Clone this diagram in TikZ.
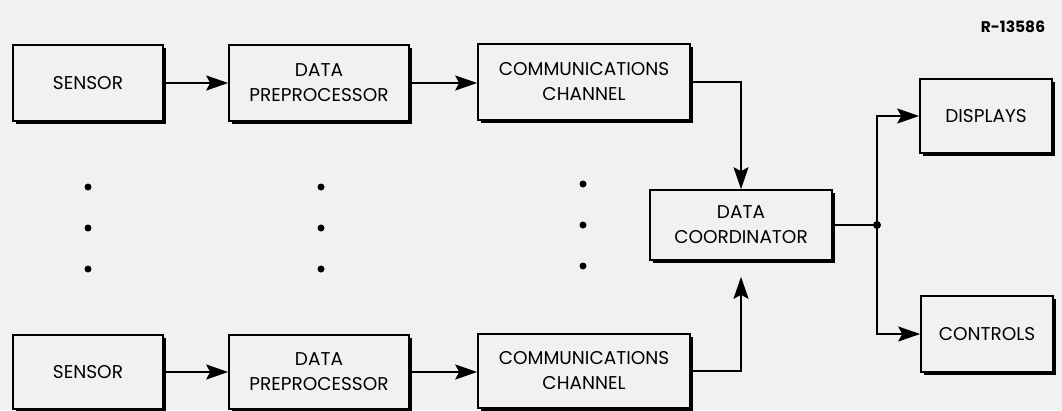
\documentclass[tikz,border=0pt]{standalone}
\usepackage{fontspec}
\setmainfont{Poppins}
\usetikzlibrary{arrows.meta,shadows}
\definecolor{bg}{RGB}{241,241,239}
\begin{document}
\begin{tikzpicture}[x=1pt,y=-1pt,
  box/.style={draw, line width=1.6pt, fill=bg, align=center, inner sep=0pt,
    font=\fontsize{18.5}{25}\selectfont,
    general shadow={shadow xshift=3pt, shadow yshift=-3pt, fill=black}},
  conn/.style={line width=1.9pt},
  arr/.style={conn, -{Stealth[length=22pt,width=15pt,inset=4pt]}},
  dotmark/.style={fill=black}]
\fill[bg] (0,0) rectangle (1062,410);
\useasboundingbox (0,0) rectangle (1062,410);
\node[font=\bfseries\fontsize{15.5}{17}\selectfont] (tag) at (1013,27) {R-13586};
\node[box, minimum width=150pt, minimum height=76pt] (s1) at (88,83) {SENSOR};
\node[box, minimum width=180pt, minimum height=76pt] (p1) at (319,83) {DATA\\PREPROCESSOR};
\node[box, minimum width=212pt, minimum height=76pt] (c1) at (584,82) {COMMUNICATIONS\\CHANNEL};
\node[box, minimum width=182pt, minimum height=70pt] (co) at (741,225) {DATA\\COORDINATOR};
\node[box, minimum width=132pt, minimum height=74pt] (d) at (986,116) {DISPLAYS};
\node[box, minimum width=132pt, minimum height=76pt] (ct) at (987,334) {CONTROLS};
\node[box, minimum width=150pt, minimum height=74pt] (s2) at (88,372) {SENSOR};
\node[box, minimum width=180pt, minimum height=74pt] (p2) at (319,372) {DATA\\PREPROCESSOR};
\node[box, minimum width=212pt, minimum height=74pt] (c2) at (584,371) {COMMUNICATIONS\\CHANNEL};
\coordinate (J) at (877,225);
\draw[arr] (s1) -- (p1);
\draw[arr] (p1.east) -- (p1.east -| c1.west);
\draw[arr] (s2) -- (p2);
\draw[arr] (p2.east) -- (p2.east -| c2.west);
\draw[arr] (c1.east) -| (co.north);
\draw[arr, shorten >=16pt] (c2.east) -| (co.south);
\draw[conn] (co.east) -- (J);
\draw[arr] (J) |- (d.west);
\draw[arr] (J) |- (ct.west);
\fill (J) circle (4);
\foreach \y in {187,228,269} {
  \fill[dotmark] (88,\y) circle (3.5);
  \fill[dotmark] (321,\y) circle (3.5);
}
\foreach \y in {184,225,266} {
  \fill[dotmark] (583,\y) circle (3.5);
}
\end{tikzpicture}
\end{document}
